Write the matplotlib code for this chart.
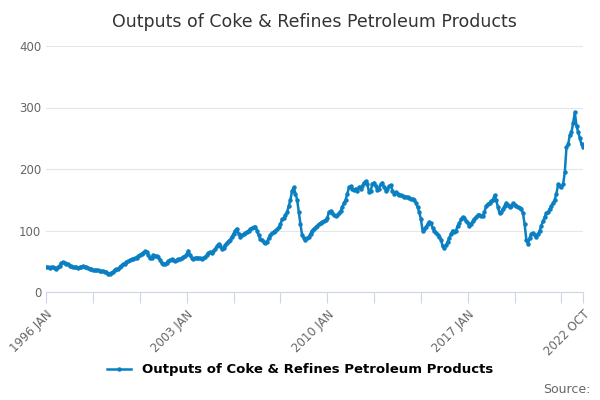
import matplotlib.pyplot as plt
import numpy as np

# Monthly values, 1996 JAN .. 2022 OCT (estimated from the chart)
values = [
    # 1996
    41, 40, 39, 40, 40, 39, 38, 40, 43, 47, 48, 47,
    # 1997
    46, 45, 43, 42, 41, 40, 40, 39, 40, 41, 42, 41,
    # 1998
    40, 39, 38, 37, 36, 35, 35, 35, 34, 34, 34, 33,
    # 1999
    32, 30, 30, 31, 33, 36, 37, 38, 40, 43, 45, 46,
    # 2000
    48, 50, 52, 53, 54, 55, 56, 58, 60, 62, 64, 66,
    # 2001
    65, 60, 55, 56, 60, 59, 58, 57, 52, 47, 45, 46,
    # 2002
    47, 50, 52, 53, 52, 51, 52, 53, 54, 55, 57, 58,
    # 2003
    62, 67, 60, 55, 54, 55, 56, 55, 55, 54, 55, 57,
    # 2004
    60, 63, 65, 64, 66, 70, 74, 78, 75, 70, 72, 76,
    # 2005
    80, 83, 85, 90, 95, 100, 103, 95, 90, 92, 94, 96,
    # 2006
    98, 100, 102, 104, 105, 106, 100, 92, 86, 84, 82, 80,
    # 2007
    82, 88, 92, 96, 98, 100, 102, 105, 110, 118, 120, 125,
    # 2008
    130, 140, 150, 165, 170, 160, 150, 130, 110, 92, 88, 85,
    # 2009
    87, 90, 95, 100, 103, 105, 107, 110, 112, 114, 115, 117,
    # 2010
    120, 130, 132, 128, 125, 123, 125, 128, 132, 138, 145, 150,
    # 2011
    160, 170, 172, 168, 166, 168, 165, 170, 168, 172, 178, 180,
    # 2012
    175, 162, 165, 176, 178, 172, 166, 168, 175, 178, 170, 165,
    # 2013
    168, 172, 174, 165, 160, 162, 160, 158, 157, 156, 155, 155,
    # 2014
    154, 153, 152, 151, 150, 145, 138, 130, 118, 100, 102, 106,
    # 2015
    110, 114, 112, 104, 100, 96, 93, 90, 85, 74, 72, 76,
    # 2016
    82, 88, 95, 100, 98, 100, 108, 112, 118, 122, 120, 116,
    # 2017
    112, 108, 110, 115, 118, 122, 125, 126, 124, 123, 130, 140,
    # 2018
    143, 145, 148, 150, 157, 150, 138, 128, 130, 135, 140, 145,
    # 2019
    142, 138, 140, 144, 142, 140, 138, 137, 135, 128, 110, 85,
    # 2020
    78, 88, 95, 96, 92, 90, 94, 100, 108, 115, 122, 128,
    # 2021
    130, 135, 140, 145, 150, 160, 175, 172, 170, 175, 195, 235,
    # 2022
    240, 255, 260, 275, 292, 270, 260, 250, 240, 235,
]
start_year = 1996
labels = []
for i in range(len(values)):
    y = start_year + i // 12
    m = ['JAN', 'FEB', 'MAR', 'APR', 'MAY', 'JUN', 'JUL', 'AUG', 'SEP', 'OCT', 'NOV', 'DEC'][i % 12]
    labels.append(f'{y} {m}')

color = '#0a7fc2'
fig, ax = plt.subplots(figsize=(6, 4), dpi=100)
fig.subplots_adjust(left=0.077, right=0.972, top=0.885, bottom=0.27)

x = np.arange(len(values))
ax.plot(x, values, color=color, lw=1.8, marker='o', ms=2.2, label='Outputs of Coke & Refines Petroleum Products')

ax.set_xlim(0, len(values) - 1)
ax.set_ylim(0, 400)
ax.set_yticks([0, 100, 200, 300, 400])
ax.grid(axis='y', color='#e6e6e6', lw=0.8)
ax.set_axisbelow(True)

ticks = list(range(0, len(values) - 1, 28)) + [len(values) - 1]
ax.set_xticks(ticks)
tick_labels = [labels[t] if (t % 84 == 0 or t == len(values) - 1) else '' for t in ticks]
ax.set_xticklabels(tick_labels, rotation=45, ha='right', rotation_mode='anchor')
ax.tick_params(axis='x', length=8, color='#ccd6eb', labelsize=8.5, labelcolor='#666666')
ax.tick_params(axis='y', length=0, labelsize=8.5, labelcolor='#666666')
for s in ['top', 'right', 'left']:
    ax.spines[s].set_visible(False)
ax.spines['bottom'].set_color('#ccd6eb')

ax.set_title('Outputs of Coke & Refines Petroleum Products', fontsize=12.5, color='#333333', pad=14)
fig.legend(loc='lower center', bbox_to_anchor=(0.5, 0.03), frameon=False, fontsize=9.5,
           prop={'weight': 'bold', 'size': 9.5}, handlelength=1.8)
fig.text(0.985, 0.01, 'Source:', ha='right', va='bottom', fontsize=9, color='#666666')

plt.savefig('out.png')
